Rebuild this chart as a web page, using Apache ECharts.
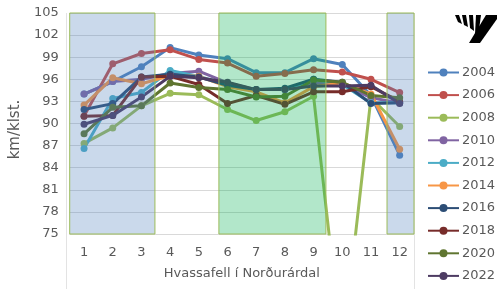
<!DOCTYPE html>
<html>
<head>
    <meta charset="UTF-8">
    <title>Hvassafell í Norðurárdal</title>
    <script src="https://cdn.jsdelivr.net/npm/echarts@6/dist/echarts.min.js"></script>
    <style type="text/css">
        html, body, #main {
            height: 100%;
            width: 100%;
            margin: 0;
            padding: 0;
            background: #fff;
        }
    </style>
</head>
<body>
<div id="main"></div>
<script type="text/javascript">
    // mánuðir
    var months = ['1', '2', '3', '4', '5', '6', '7', '8', '9', '10', '11', '12'];
    var years = ['2004', '2006', '2008', '2010', '2012', '2014', '2016', '2018', '2020', '2022'];
    var colors = ['#4F81BD', '#C0504D', '#9BBB59', '#8064A2', '#4BACC6', '#F79646', '#2C4D75', '#772C2A', '#5F7530', '#4D3B62'];

    // meðalhraði km/klst.
    var s2004 = [94.0, 95.7, 97.7, 100.3, 99.3, 98.8, 96.9, 96.9, 98.8, 98.0, 93.8, 85.7];
    var s2006 = [91.0, 98.1, 99.5, 100.0, 98.7, 98.2, 96.4, 96.8, 97.3, 97.0, 96.0, 94.2];
    var s2008 = [87.3, 89.4, 92.4, 94.1, 93.9, 91.9, 90.4, 91.6, 93.7, 59.0, 93.5, 89.6];
    var s2010 = [94.0, 95.7, 96.0, 96.8, 97.1, 95.5, 94.6, 94.6, 95.5, 95.3, 93.5, 92.8];
    var s2012 = [86.6, 93.4, 94.2, 97.2, 96.4, 95.3, 94.6, 94.6, 96.0, 95.3, 92.8, 92.8];
    var s2014 = [92.5, 96.2, 95.4, 96.5, 96.4, 95.0, 94.3, 92.8, 95.0, 95.5, 94.0, 86.5];
    var s2016 = [91.9, 92.7, 96.3, 96.7, 96.3, 95.2, 94.6, 94.8, 96.0, 95.6, 92.7, 92.8];
    var s2018 = [91.0, 91.1, 96.3, 96.4, 95.3, 92.7, 93.8, 92.6, 94.3, 94.3, 95.0, 93.0];
    var s2020 = [88.6, 92.2, 92.4, 95.5, 94.9, 94.6, 93.6, 93.7, 95.9, 95.6, 93.8, 93.5];
    var s2022 = [89.9, 91.1, 93.6, 96.4, 96.2, 95.6, 94.6, 94.6, 95.1, 95.1, 95.2, 92.7];
    var values = [s2004, s2006, s2008, s2010, s2012, s2014, s2016, s2018, s2020, s2022];

    var font = 'DejaVu Sans';
    var grey = '#595959';

    var series = years.map(function (y, i) {
        return {
            name: y,
            type: 'line',
            data: values[i],
            color: colors[i],
            symbol: 'circle',
            symbolSize: 7,
            lineStyle: {width: 3},
            z: 2,
            animation: false
        };
    });

    // skyggðu svæðin (vetur / sumar), ofan á línunum
    series.push({
        name: 'svaedi',
        type: 'line',
        xAxisIndex: 1,
        data: [],
        z: 10,
        silent: true,
        animation: false,
        markArea: {
            silent: true,
            z: 10,
            data: [
                [{xAxis: 0.5, yAxis: 105, itemStyle: {color: 'rgba(79,129,189,0.3)'}}, {xAxis: 3.47, yAxis: 75}],
                [{xAxis: 5.7, yAxis: 105, itemStyle: {color: 'rgba(0,176,80,0.3)'}}, {xAxis: 9.43, yAxis: 75}],
                [{xAxis: 11.56, yAxis: 105, itemStyle: {color: 'rgba(79,129,189,0.3)'}}, {xAxis: 12.5, yAxis: 75}]
            ],
            itemStyle: {borderColor: '#9BBB59', borderWidth: 1}
        }
    });

    var mycharts = echarts.init(document.getElementById('main'));
    var option = {
        animation: false,
        textStyle: {fontFamily: font},
        grid: {left: 66, right: 83, top: 13, bottom: 55},
        legend: {
            orient: 'vertical',
            left: 422,
            top: 61,
            padding: [5, -60, 5, 5],
            itemWidth: 31,
            itemHeight: 10,
            itemGap: 9.6,
            data: years,
            itemStyle: {borderWidth: 0},
            textStyle: {fontFamily: font, fontSize: 13, color: grey, padding: [0, 0, 0, -2]}
        },
        xAxis: [{
            type: 'category',
            data: months,
            boundaryGap: true,
            name: 'Hvassafell í Norðurárdal',
            nameLocation: 'middle',
            nameGap: 33,
            nameTextStyle: {fontFamily: font, fontSize: 13, color: grey},
            axisLine: {lineStyle: {color: '#d9d9d9'}},
            axisTick: {show: false},
            axisLabel: {fontFamily: font, fontSize: 13, color: grey, margin: 12}
        }, {
            type: 'value',
            min: 0.5,
            max: 12.5,
            show: false
        }],
        yAxis: {
            type: 'value',
            min: 75,
            max: 105,
            interval: 3,
            name: 'km/klst.',
            nameLocation: 'middle',
            nameGap: 38,
            nameTextStyle: {fontFamily: font, fontSize: 15, color: grey, padding: [0, 12, 0, 0]},
            axisLine: {show: false},
            axisTick: {show: false},
            axisLabel: {fontFamily: font, fontSize: 13, color: grey, margin: 11},
            splitLine: {lineStyle: {color: '#d9d9d9', width: 1}}
        },
        graphic: [
            {type: 'line', shape: {x1: 66.5, y1: 13, x2: 66.5, y2: 289}, style: {stroke: '#e3e3e3', lineWidth: 1}, z: 0},
            {type: 'line', shape: {x1: 414.5, y1: 13, x2: 414.5, y2: 289}, style: {stroke: '#e3e3e3', lineWidth: 1}, z: 0},
            // merki (sebrarönd)
            {type: 'polygon', shape: {points: [[486, 15], [497, 15], [497, 19], [480, 43], [469, 43]]}, style: {fill: '#000'}},
            {type: 'polygon', shape: {points: [[455, 15], [459, 15], [462, 24], [458, 22]]}, style: {fill: '#000'}},
            {type: 'polygon', shape: {points: [[462, 15], [466, 15], [468, 27], [464, 25]]}, style: {fill: '#000'}},
            {type: 'polygon', shape: {points: [[469, 15], [473, 15], [474, 31], [470, 28]]}, style: {fill: '#000'}},
            {type: 'polygon', shape: {points: [[476, 15], [481, 15], [478, 37], [475, 34]]}, style: {fill: '#000'}}
        ],
        series: series
    };
    mycharts.setOption(option);
</script>
</body>
</html>
